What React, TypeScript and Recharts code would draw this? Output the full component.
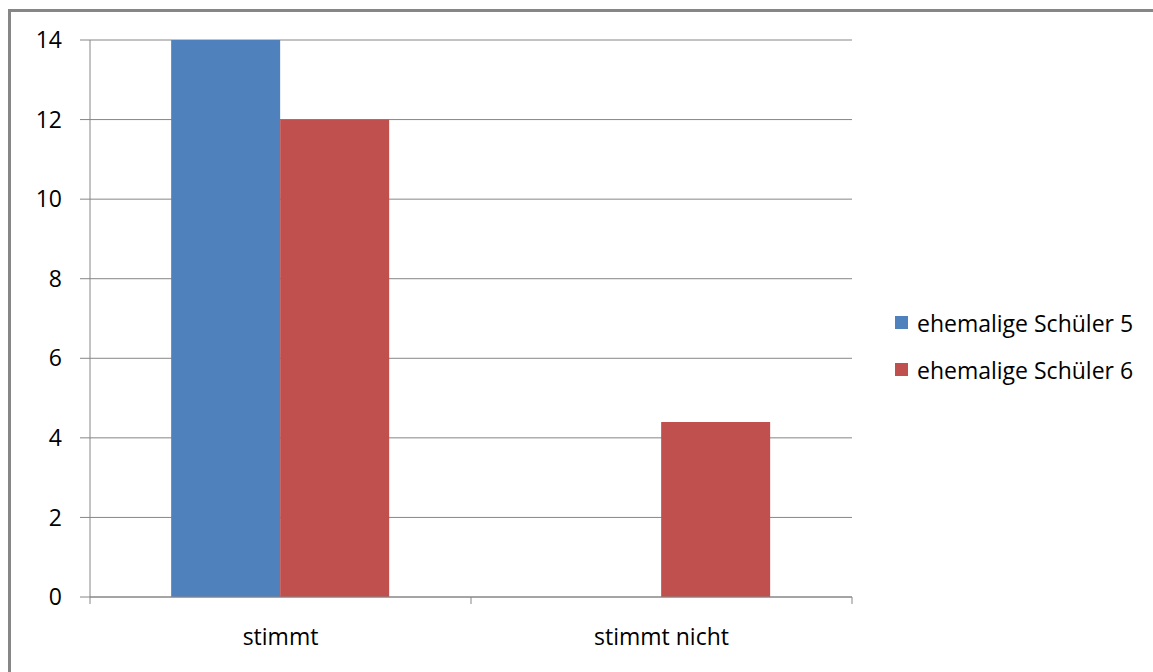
import { BarChart, Bar, XAxis, YAxis, CartesianGrid, Legend } from 'recharts';

const categories = ['stimmt', 'stimmt nicht'];
const schueler5 = [14, 0];
const schueler6 = [12, 4.4];
const yTicks = [0, 2, 4, 6, 8, 10, 12, 14];

const data = categories.map((name, i) => ({
  name,
  s5: schueler5[i],
  s6: schueler6[i],
}));

const GRAY = '#868686';
const FONT = '"Open Sans", sans-serif';
const FS = 23;

// category labels centred, tick marks on the band edges
function XTick({ x, y, payload, index }: any) {
  const half = payload?.offset ?? 0;
  const isLast = index === categories.length - 1;
  return (
    <g>
      <line x1={x - half} y1={y - 32} x2={x - half} y2={y - 25} stroke={GRAY} />
      {isLast && <line x1={x + half} y1={y - 32} x2={x + half} y2={y - 25} stroke={GRAY} />}
      <text x={x} y={y} dy="0.71em" textAnchor="middle" fill="#000" fontSize={FS} fontFamily={FONT}>
        {payload.value}
      </text>
    </g>
  );
}

function LegendBox({ payload }: any) {
  return (
    <div style={{ fontFamily: FONT, fontSize: FS, color: '#000' }}>
      {payload?.map((p: any) => (
        <div key={p.value} style={{ display: 'flex', alignItems: 'center', height: 47 }}>
          <span style={{ width: 13, height: 13, background: p.color, marginRight: 9, display: 'inline-block' }} />
          <span>{p.value}</span>
        </div>
      ))}
    </div>
  );
}

export default function App() {
  return (
    <div style={{ position: 'fixed', left: 0, top: 0, width: 1153, height: 672, overflow: 'hidden', background: '#fff' }}>
      <div
        style={{
          position: 'absolute',
          left: 8,
          top: 9,
          width: 1200,
          height: 700,
          borderTop: `3px solid ${GRAY}`,
          borderLeft: `3px solid ${GRAY}`,
        }}
      />
      <div style={{ position: 'absolute', left: 0, top: 0 }}>
        <BarChart
          width={1153}
          height={672}
          data={data}
          margin={{ top: 40, right: 43, bottom: 45, left: 10 }}
          barCategoryGap="21.3%"
          barGap={0}
        >
          <CartesianGrid vertical={false} stroke={GRAY} strokeWidth={1} />
          <XAxis
            dataKey="name"
            height={30}
            axisLine={{ stroke: GRAY }}
            tickLine={false}
            tickSize={7}
            tickMargin={25}
            interval={0}
            tick={<XTick />}
          />
          <YAxis
            domain={[0, 14]}
            ticks={yTicks}
            width={80}
            axisLine={{ stroke: GRAY }}
            tickLine={{ stroke: GRAY }}
            tickSize={10}
            tickMargin={18}
            tick={{ fill: '#000', fontSize: FS, fontFamily: FONT }}
            interval={0}
          />
          <Legend
            layout="vertical"
            align="right"
            verticalAlign="top"
            content={<LegendBox />}
            wrapperStyle={{ left: 895, top: 299, width: 258 }}
          />
          <Bar dataKey="s5" name="ehemalige Schüler 5" fill="#4f81bd" isAnimationActive={false} />
          <Bar dataKey="s6" name="ehemalige Schüler 6" fill="#c0504d" isAnimationActive={false} />
        </BarChart>
      </div>
    </div>
  );
}
